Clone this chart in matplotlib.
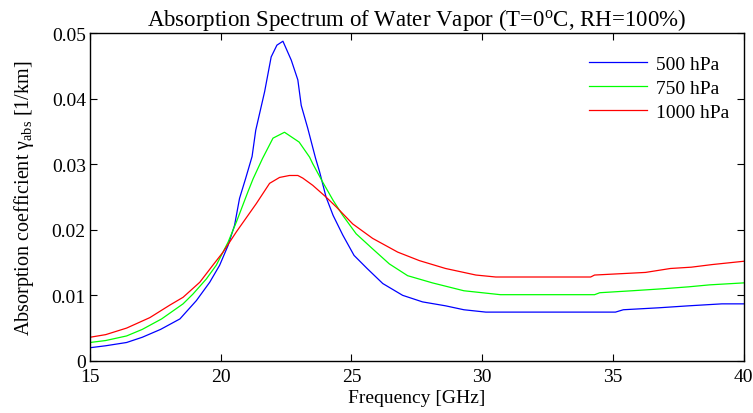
import matplotlib
matplotlib.use("Agg")
import matplotlib.pyplot as plt

plt.rcParams['font.family'] = ['Liberation Serif', 'DejaVu Serif']
plt.rcParams['mathtext.fontset'] = 'custom'
plt.rcParams['mathtext.rm'] = 'Liberation Serif'
plt.rcParams['mathtext.it'] = 'Liberation Serif:italic'

# frequency [GHz] and absorption coefficient [1/km]
f_500 = [15.0, 15.6, 16.4, 17.0, 17.7, 18.44, 19.07, 19.58, 19.96, 20.28, 20.53,
         20.72, 20.95, 21.2, 21.34, 21.68, 21.93, 22.15, 22.38, 22.7, 22.95,
         23.08, 23.33, 23.63, 23.78, 24.03, 24.3, 24.67, 25.1, 25.6, 26.2,
         26.96, 27.72, 28.6, 29.3, 30.14, 35.1, 35.4, 36.76, 37.9, 39.17, 40.0]
v_500 = [0.0020, 0.0023, 0.0028, 0.0036, 0.0048, 0.0064, 0.0092, 0.0120, 0.0146,
         0.0176, 0.0207, 0.0248, 0.0278, 0.0312, 0.0352, 0.0411, 0.0464, 0.0482,
         0.0488, 0.0459, 0.0429, 0.0390, 0.0355, 0.0309, 0.0289, 0.0250, 0.0222,
         0.0192, 0.0161, 0.0141, 0.0118, 0.0100, 0.0090, 0.0084, 0.0078, 0.00744,
         0.00744, 0.0078, 0.0081, 0.0084, 0.0087, 0.0087]

f_750 = [15.0, 15.6, 16.4, 17.0, 17.74, 18.56, 18.94, 19.45, 19.83, 20.28, 20.6,
         21.04, 21.24, 21.6, 22.0, 22.44, 23.0, 23.4, 23.52, 23.9, 24.3, 24.67,
         25.18, 25.81, 26.45, 27.15, 28.1, 29.3, 30.0, 30.7, 34.3, 34.5, 35.74,
         36.9, 37.9, 38.7, 40.0]
v_750 = [0.0028, 0.0031, 0.0038, 0.0048, 0.0064, 0.0087, 0.0102, 0.0125, 0.0146,
         0.0181, 0.0212, 0.0258, 0.0278, 0.0309, 0.0340, 0.0349, 0.0334, 0.0311,
         0.0301, 0.0273, 0.0245, 0.0222, 0.0194, 0.0171, 0.0148, 0.0130, 0.0119,
         0.0107, 0.0104, 0.0101, 0.0101, 0.0104, 0.0107, 0.0110, 0.0113, 0.0116,
         0.0119]

f_1000 = [15.0, 15.6, 16.4, 17.29, 18.05, 18.56, 19.2, 19.7, 20.09, 20.6, 21.36,
          21.87, 22.25, 22.63, 22.95, 23.14, 23.52, 24.03, 24.42, 25.05, 25.81,
          26.77, 27.6, 28.6, 29.76, 30.52, 34.15, 34.3, 36.25, 37.2, 38.0, 38.8,
          40.0]
v_1000 = [0.0036, 0.0040, 0.0050, 0.0066, 0.0085, 0.0097, 0.0120, 0.0146, 0.0166,
          0.0197, 0.0240, 0.0271, 0.0280, 0.0283, 0.0283, 0.0279, 0.0268, 0.0250,
          0.0235, 0.0209, 0.0187, 0.0166, 0.0153, 0.0141, 0.0131, 0.0128, 0.0128,
          0.0131, 0.0135, 0.0141, 0.0143, 0.0147, 0.0152]

fig = plt.figure(figsize=(7.53, 4.14), dpi=100)
ax = fig.add_axes([0.1195, 0.126, 0.868, 0.791])

ax.plot(f_500, v_500, color='#0000ff', lw=0.9, label='500 hPa')
ax.plot(f_750, v_750, color='#00ff00', lw=0.9, label='750 hPa')
ax.plot(f_1000, v_1000, color='#ff0000', lw=0.9, label='1000 hPa')

ax.set_xlim(15, 40)
ax.set_ylim(0, 0.05)
ax.set_xticks([15, 20, 25, 30, 35, 40])
ax.set_yticks([0, 0.01, 0.02, 0.03, 0.04, 0.05])
ax.set_yticklabels(['0', '0.01', '0.02', '0.03', '0.04', '0.05'])
ax.tick_params(direction='in', top=True, right=True, labelsize=14, length=5)
ax.tick_params(axis='x', pad=5)
ax.tick_params(axis='y', pad=3)
for s in ax.spines.values():
    s.set_linewidth(1)

ax.set_xlabel('Frequency [GHz]', fontsize=14, labelpad=3)
ax.set_ylabel('Absorption coefficient γ$_{\\mathrm{abs}}$ [1/km]', fontsize=14.5, labelpad=11)
ax.set_title('Absorption Spectrum of Water Vapor (T=0$^{\\mathrm{o}}$C, RH=100%)',
             fontsize=16.5, pad=6)

ax.legend(loc='upper right', frameon=False, fontsize=14, handlelength=3.0,
          handletextpad=0.45, labelspacing=0.33, borderpad=0, borderaxespad=0,
          bbox_to_anchor=(0.978, 0.932))

fig.savefig('out.png', dpi=100)
